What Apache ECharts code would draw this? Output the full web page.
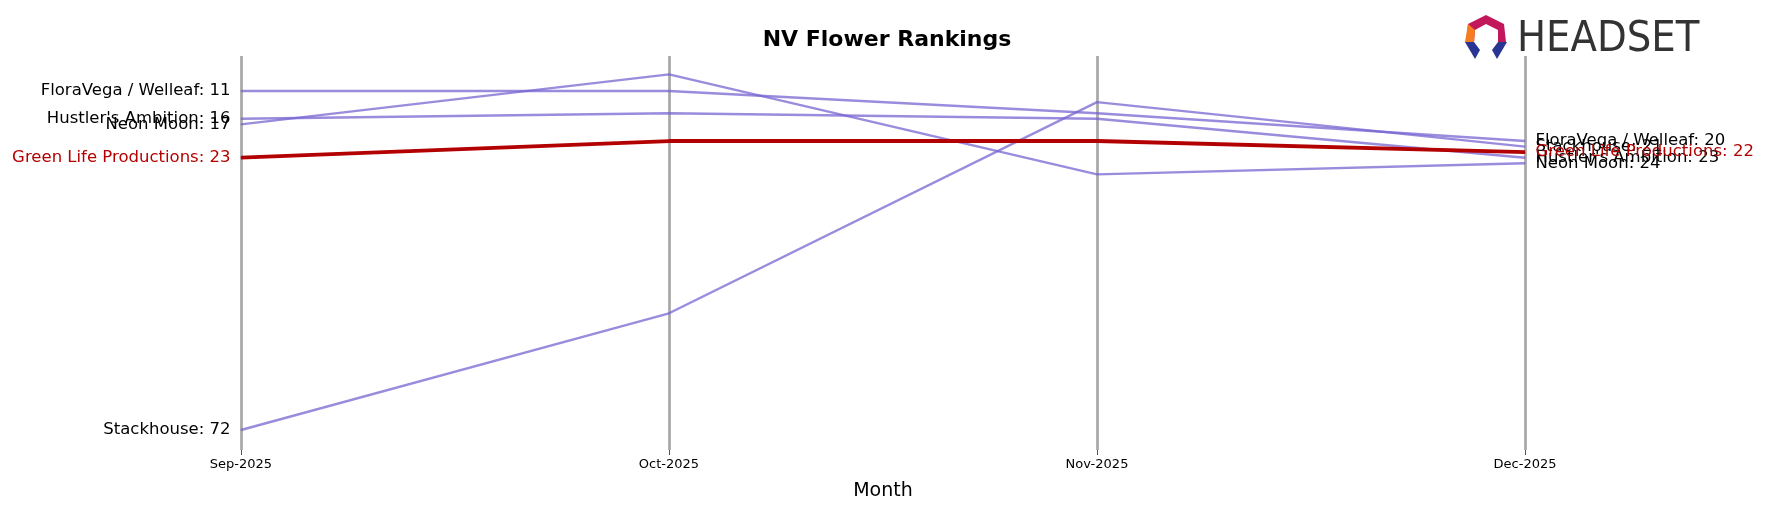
<!DOCTYPE html>
<html><head><meta charset="utf-8">
<script src="https://cdn.jsdelivr.net/npm/echarts@6/dist/echarts.min.js"></script>
<style>body{margin:0}#c{width:1765px;height:507px}</style></head>
<body><div id="c"></div>
<script>
const months = ['Sep-2025','Oct-2025','Nov-2025','Dec-2025'];
const floraVega = [11, 11, 15, 20];
const hustlers = [16, 15, 16, 23];
const neonMoon = [17, 8, 26, 24];
const greenLife = [23, 20, 20, 22];
const stackhouse = [72, 51, 13, 21];
const brands = [
  ['FloraVega / Welleaf', floraVega],
  ["Hustler's Ambition", hustlers],
  ['Neon Moon', neonMoon],
  ['Stackhouse', stackhouse],
  ['Green Life Productions', greenLife]
];
const chart = echarts.init(document.getElementById('c'));
const series = brands.map(([name, vals]) => {
  const hl = name === 'Green Life Productions';
  const col = hl ? '#b30000' : 'rgba(120,100,210,0.75)';
  const txt = hl ? '#b30000' : '#000';
  return {
    name, type: 'line', showSymbol: true, symbol: 'circle', symbolSize: 1,
    data: vals.map((v, i) => ({
      value: v,
      label: (i === 0 || i === vals.length - 1) ? {
        show: true, position: i === 0 ? 'left' : 'right', distance: 10,
        formatter: name + ': ' + v, color: txt, fontSize: 16.5, fontFamily: 'DejaVu Sans'
      } : {show: false}
    })),
    itemStyle: {color: col},
    lineStyle: {color: col, width: hl ? 3.8 : 2.4},
    labelLayout: {hideOverlap: false},
    z: hl ? 5 : 2
  };
});
chart.setOption({
  animation: false,
  title: {text: 'NV Flower Rankings', left: 882, top: 24, textAlign: 'center',
    textStyle: {fontSize: 22, fontWeight: 'bold', fontFamily: 'DejaVu Sans', color: '#000'}},
  grid: {left: 241, right: 240, top: 56, bottom: 57},
  xAxis: {type: 'category', data: months, boundaryGap: false,
    axisLine: {show: false}, axisTick: {show: true, length: 5, lineStyle: {color: '#555'}},
    axisLabel: {fontSize: 13, color: '#000', fontFamily: 'DejaVu Sans', margin: 8},
    splitLine: {show: true, lineStyle: {color: '#aaa', width: 2.8}},
    name: 'Month', nameLocation: 'middle', nameGap: 32,
    nameTextStyle: {fontSize: 19, color: '#000', fontFamily: 'DejaVu Sans'}},
  yAxis: {type: 'value', inverse: true, min: 4.7, max: 75.6, show: false},
  series,
  graphic: [
    {type: 'group', left: 1465, top: 15, children: [
      {type: 'polygon', shape: {points: [[22,0],[40,9],[42,27],[34,27],[34,15],[22,9],[11,15],[10,27],[2,27],[4,9]]}, style: {fill: '#c2185b'}},
      {type: 'polygon', shape: {points: [[4,9],[11,15],[10,27],[1,27]]}, style: {fill: '#f57c20'}},
      {type: 'polygon', shape: {points: [[1,27],[10,27],[16,35],[11,44]]}, style: {fill: '#283593'}},
      {type: 'polygon', shape: {points: [[34,27],[43,27],[33,44],[28,35]]}, style: {fill: '#283593'}},
      {type: 'text', x: 53, y: 3, style: {text: 'HEADSET', fontSize: 43, fontFamily: 'DejaVu Sans Condensed', fill: '#333'}}
    ]}
  ]
});
</script></body></html>
